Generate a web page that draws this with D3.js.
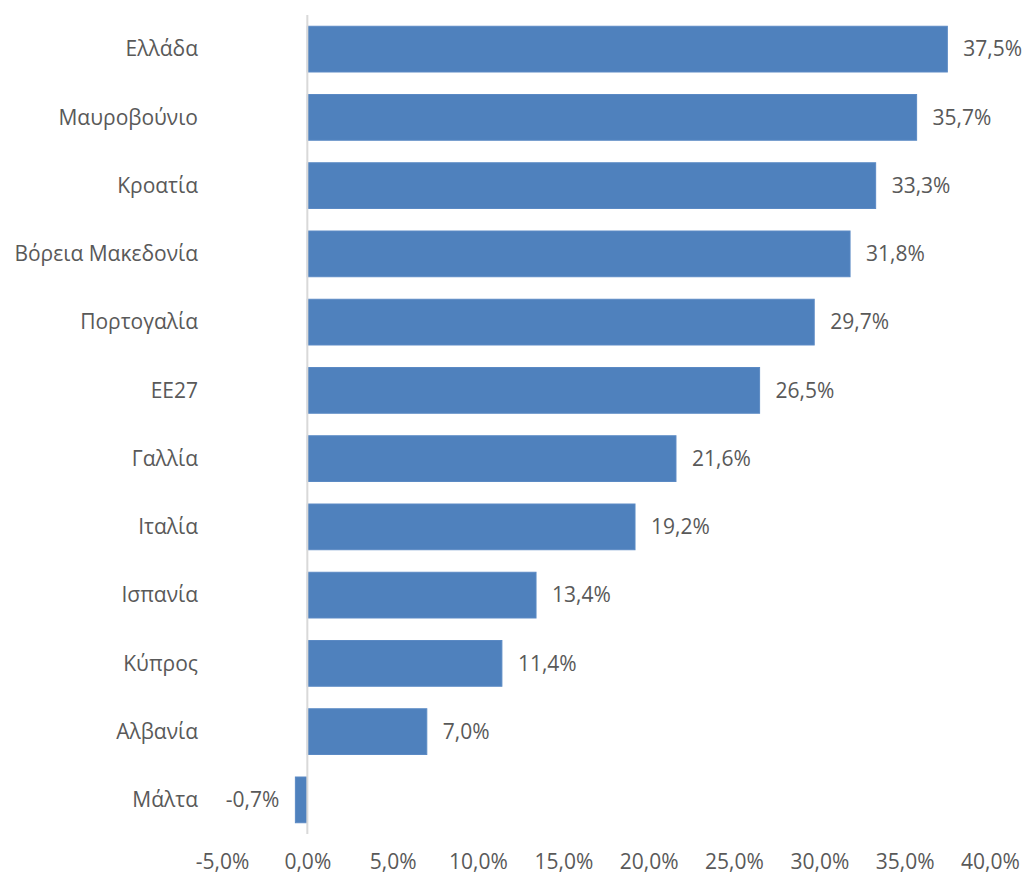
<!DOCTYPE html>
<html><head><meta charset="utf-8">
<script src="https://cdn.jsdelivr.net/npm/d3@7"></script>
<style>body{margin:0;background:#fff}svg{display:block}text{font-family:"Open Sans","Noto Sans",sans-serif;fill:#595959}</style>
</head><body><svg id="c" width="1024" height="875"></svg>
<script>
const categories = ["Ελλάδα","Μαυροβούνιο","Κροατία","Βόρεια Μακεδονία","Πορτογαλία","ΕΕ27","Γαλλία","Ιταλία","Ισπανία","Κύπρος","Αλβανία","Μάλτα"];
const values = [37.5,35.7,33.3,31.8,29.7,26.5,21.6,19.2,13.4,11.4,7.0,-0.7];
const tickValues = [-5,0,5,10,15,20,25,30,35,40];

const svg = d3.select("#c");
const x = d3.scaleLinear().domain([-5,40]).range([222,990]);
const y = d3.scaleBand().domain(categories).range([15,834]).paddingInner(0.33).paddingOuter(0.165);
const fmt = v => d3.format(".1f")(v).replace(".",",").replace("−","-") + "%";
const fs = 21;

svg.append("g").selectAll("rect").data(values).join("rect")
  .attr("x", d => x(Math.min(0,d))).attr("width", d => Math.abs(x(d)-x(0)))
  .attr("y", (d,i) => y(categories[i])).attr("height", y.bandwidth())
  .attr("fill","#4f81bd").attr("stroke","#5b8ac4").attr("stroke-width",1);

svg.append("line").attr("x1",x(0)).attr("x2",x(0)).attr("y1",15).attr("y2",834)
  .attr("stroke","#d9d9d9").attr("stroke-width",2);

svg.append("g").selectAll("text").data(categories).join("text")
  .attr("x",198).attr("y", d => y(d)+y.bandwidth()/2).attr("dy","0.35em")
  .attr("text-anchor","end").attr("font-size",fs).text(d=>d);

svg.append("g").selectAll("text").data(values).join("text")
  .attr("x", d => d>=0 ? x(d)+16 : x(d)-16)
  .attr("text-anchor", d => d>=0 ? "start" : "end")
  .attr("y", (d,i) => y(categories[i])+y.bandwidth()/2).attr("dy","0.35em")
  .attr("font-size",fs).text(fmt);

const ax = svg.append("g").attr("transform","translate(0,862)")
  .call(d3.axisBottom(x).tickValues(tickValues).tickSize(0).tickPadding(0).tickFormat(fmt));
ax.select(".domain").remove();
ax.selectAll("text").attr("font-size",fs).attr("dy","0.35em").attr("fill","#595959");
</script></body></html>
